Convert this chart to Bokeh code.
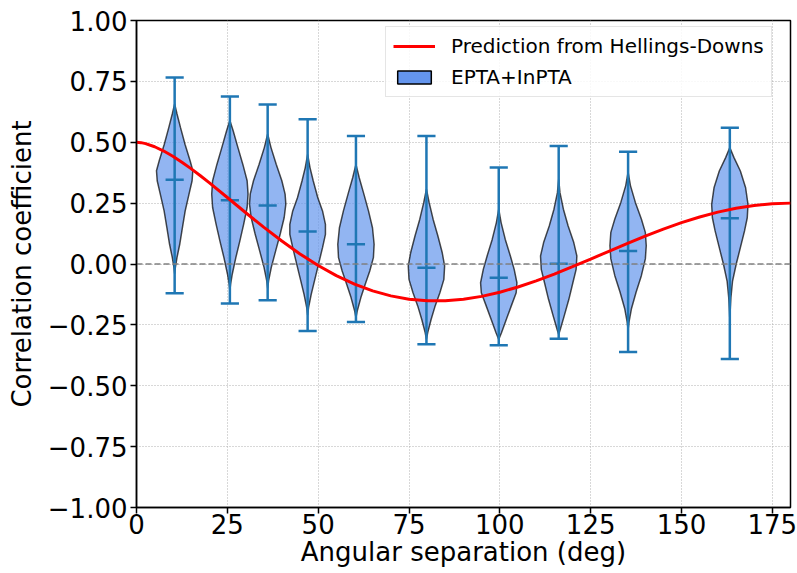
from bokeh.plotting import figure
from bokeh.models import Range1d, FixedTicker, Legend, LegendItem
from bokeh.embed import file_html
from bokeh.resources import INLINE

# ---------------- data ----------------
# Hellings-Downs prediction
hd_angles = [0, 1.25, 2.5, 5, 7.5, 10, 12.5, 15, 17.5, 20, 25, 30, 35, 40, 45, 50, 55, 60, 65, 70,
             75, 80, 85, 90, 95, 100, 105, 110, 115, 120, 125, 130, 135, 140, 145, 150, 155, 160,
             165, 170, 175, 180]
hd_values = [0.5000, 0.4984, 0.4944, 0.4816, 0.4639, 0.4425, 0.4182, 0.3917, 0.3635, 0.3341,
             0.2732, 0.2116, 0.1514, 0.0942, 0.0414, -0.0061, -0.0476, -0.0824, -0.1102, -0.1309,
             -0.1445, -0.1511, -0.1511, -0.1449, -0.1330, -0.1159, -0.0945, -0.0693, -0.0413, -0.0111,
             0.0203, 0.0522, 0.0839, 0.1145, 0.1433, 0.1697, 0.1931, 0.2130, 0.2289, 0.2405,
             0.2476, 0.2500]

# violin positions (deg), extremes and central mark
positions = [10.5, 25.7, 36.1, 47.1, 60.4, 79.8, 99.7, 116.2, 135.3, 163.3]
v_mins = [-0.120, -0.162, -0.149, -0.275, -0.238, -0.330, -0.334, -0.307, -0.361, -0.390]
v_maxs = [0.766, 0.688, 0.655, 0.594, 0.526, 0.526, 0.396, 0.485, 0.461, 0.560]
v_mids = [0.346, 0.262, 0.240, 0.133, 0.081, -0.015, -0.056, 0.001, 0.053, 0.188]

# violin outlines: (correlation value, relative half width)
shape_1 = [(0.657, 0), (0.616, 0.13), (0.561, 0.32), (0.492, 0.57), (0.424, 0.85), (0.383, 1.0),
           (0.342, 0.96), (0.287, 0.79), (0.218, 0.58), (0.150, 0.43), (0.081, 0.28), (0.027, 0.13),
           (-0.014, 0.04), (-0.040, 0)]
shape_2 = [(0.589, 0), (0.547, 0.18), (0.479, 0.44), (0.410, 0.71), (0.342, 0.95), (0.287, 1.0),
           (0.232, 0.95), (0.164, 0.76), (0.095, 0.55), (0.027, 0.33), (-0.042, 0.13), (-0.083, 0.04),
           (-0.110, 0)]
shape_3 = [(0.534, 0), (0.479, 0.18), (0.410, 0.47), (0.342, 0.78), (0.287, 0.96), (0.246, 1.0),
           (0.191, 0.91), (0.123, 0.69), (0.054, 0.44), (-0.014, 0.20), (-0.069, 0.05), (-0.100, 0)]
shape_4 = [(0.450, 0), (0.396, 0.13), (0.341, 0.31), (0.272, 0.56), (0.218, 0.82), (0.163, 0.98),
           (0.122, 0.98), (0.067, 0.82), (0.012, 0.64), (-0.056, 0.42), (-0.124, 0.20), (-0.179, 0.05),
           (-0.210, 0)]
shape_5 = [(0.409, 0), (0.354, 0.18), (0.286, 0.44), (0.218, 0.69), (0.149, 0.91), (0.081, 1.0),
           (0.026, 0.96), (-0.029, 0.76), (-0.083, 0.51), (-0.138, 0.27), (-0.193, 0.07), (-0.220, 0)]
shape_6 = [(0.307, 0), (0.252, 0.15), (0.183, 0.37), (0.115, 0.63), (0.046, 0.87), (-0.008, 1.0),
           (-0.063, 0.96), (-0.118, 0.74), (-0.172, 0.48), (-0.227, 0.26), (-0.282, 0.07), (-0.310, 0)]
shape_7 = [(0.225, 0), (0.170, 0.13), (0.101, 0.36), (0.033, 0.64), (-0.022, 0.85), (-0.077, 1.0),
           (-0.118, 0.96), (-0.172, 0.69), (-0.227, 0.42), (-0.282, 0.15), (-0.310, 0)]
shape_8 = [(0.348, 0), (0.293, 0.07), (0.225, 0.26), (0.156, 0.52), (0.088, 0.83), (0.033, 1.0),
           (-0.022, 0.96), (-0.077, 0.78), (-0.145, 0.56), (-0.214, 0.30), (-0.268, 0.09), (-0.290, 0)]
shape_9 = [(0.377, 0), (0.322, 0.13), (0.253, 0.40), (0.185, 0.73), (0.130, 0.95), (0.075, 1.0),
           (0.021, 0.95), (-0.048, 0.73), (-0.116, 0.44), (-0.185, 0.18), (-0.239, 0.05), (-0.270, 0)]
shape_10 = [(0.478, 0), (0.437, 0.23), (0.382, 0.58), (0.313, 0.87), (0.245, 1.0), (0.190, 0.96),
            (0.136, 0.81), (0.067, 0.58), (-0.001, 0.35), (-0.070, 0.15), (-0.138, 0.06), (-0.193, 0.02),
            (-0.230, 0)]
shapes = [shape_1, shape_2, shape_3, shape_4, shape_5, shape_6, shape_7, shape_8, shape_9, shape_10]

x_ticks = [0, 25, 50, 75, 100, 125, 150, 175]
y_ticks = [-1.0, -0.75, -0.5, -0.25, 0.0, 0.25, 0.5, 0.75, 1.0]
y_tick_labels = ["\u22121.00", "\u22120.75", "\u22120.50", "\u22120.25", "0.00", "0.25", "0.50", "0.75", "1.00"]
x_label = "Angular separation (deg)"
y_label = "Correlation coefficient"
legend_labels = ["Prediction from Hellings-Downs", "EPTA+InPTA"]

# ---------------- styling constants ----------------
FONT = "DejaVu Sans"
HALF_WIDTH = 5.0      # deg, max half width of a violin
CAP_HALF = 2.5        # deg
BLUE = "#1f77b4"
FILL = "#6495ED"

p = figure(width=797, height=573, output_backend="svg", toolbar_location=None,
           x_range=Range1d(0, 180), y_range=Range1d(-1, 1),
           min_border_left=136, min_border_right=7, min_border_top=20, min_border_bottom=66)
p.background_fill_color = "white"
p.border_fill_color = "white"
p.outline_line_color = "black"
p.outline_line_width = 1.5

# grid
p.grid.grid_line_color = "#b0b0b0"
p.grid.grid_line_dash = "1 2"
p.grid.grid_line_width = 1

# axes
for ax in (p.xaxis, p.yaxis):
    ax.axis_line_color = "black"
    ax.axis_line_width = 1.5
    ax.major_tick_line_color = "black"
    ax.major_tick_line_width = 1.5
    ax.major_tick_out = 6
    ax.major_tick_in = 0
    ax.minor_tick_line_color = None
    ax.major_label_text_font = FONT
    ax.major_label_text_font_size = "26px"
    ax.major_label_text_color = "black"
    ax.axis_label_text_font = FONT
    ax.axis_label_text_font_size = "26px"
    ax.axis_label_text_font_style = "normal"
    ax.axis_label_text_color = "black"

p.xaxis.major_label_standoff = 0
p.yaxis.major_label_standoff = 3
p.xaxis.ticker = FixedTicker(ticks=x_ticks)
p.yaxis.ticker = FixedTicker(ticks=y_ticks)
p.yaxis.major_label_overrides = {t: lab for t, lab in zip(y_ticks, y_tick_labels)}
p.xaxis.axis_label = x_label
p.yaxis.axis_label = y_label
p.xaxis.axis_label_standoff = 0
p.yaxis.axis_label_standoff = 8

# violin bodies
xs, ys = [], []
for pos, shape in zip(positions, shapes):
    right_x = [pos + HALF_WIDTH * w for v, w in shape]
    right_y = [v for v, w in shape]
    left_x = [pos - HALF_WIDTH * w for v, w in reversed(shape)]
    left_y = [v for v, w in reversed(shape)]
    xs.append(right_x + left_x)
    ys.append(right_y + left_y)
p.patches(xs=xs, ys=ys, fill_color=FILL, fill_alpha=0.7, line_color="black", line_alpha=0.7,
          line_width=1.5)

# vertical bars, caps, central marks
p.segment(x0=positions, y0=v_mins, x1=positions, y1=v_maxs, line_color=BLUE, line_width=2.5)
lefts = [x - CAP_HALF for x in positions]
rights = [x + CAP_HALF for x in positions]
p.segment(x0=lefts, y0=v_maxs, x1=rights, y1=v_maxs, line_color=BLUE, line_width=2.5)
p.segment(x0=lefts, y0=v_mins, x1=rights, y1=v_mins, line_color=BLUE, line_width=2.5)
p.segment(x0=lefts, y0=v_mids, x1=rights, y1=v_mids, line_color=BLUE, line_width=2.5)

# zero line
p.line(x=[0, 180], y=[0, 0], line_color="#808080", line_alpha=0.75, line_width=2, line_dash="6 3")

# Hellings-Downs curve
hd = p.line(x=hd_angles, y=hd_values, line_color="#ff0000", line_width=3)

# legend swatch for the violins (zero-size, only used by the legend)
swatch = p.rect(x=positions[:1], y=v_mids[:1], width=0, height=0, fill_color=FILL, fill_alpha=1.0,
                line_color="black", line_width=1.5)

legend = Legend(items=[LegendItem(label=legend_labels[0], renderers=[hd]),
                       LegendItem(label=legend_labels[1], renderers=[swatch])],
                location=(249, 410))
legend.label_text_font = FONT
legend.label_text_font_size = "20px"
legend.label_text_color = "black"
legend.glyph_width = 42
legend.glyph_height = 16
legend.label_height = 24
legend.label_standoff = 16
legend.spacing = 7
legend.padding = 7
legend.margin = 0
legend.border_line_color = "#cccccc"
legend.border_line_width = 1
legend.background_fill_color = "white"
legend.background_fill_alpha = 0.85
p.add_layout(legend, "center")

open("out.html", "w").write(file_html(p, INLINE))
